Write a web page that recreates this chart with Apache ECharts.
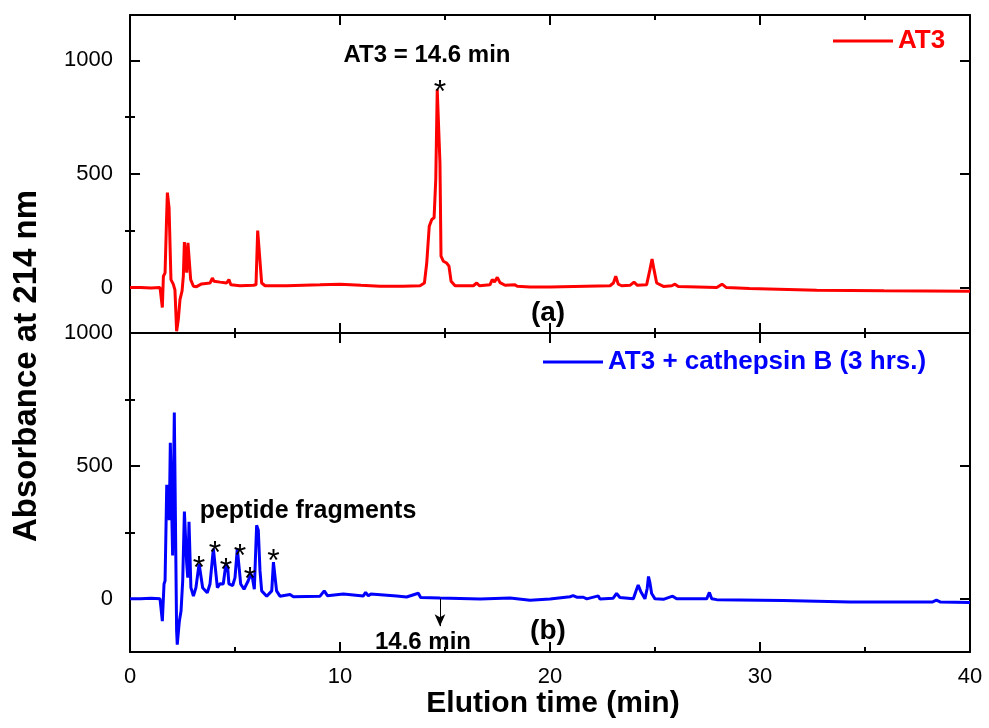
<!DOCTYPE html>
<html>
<head>
<meta charset="utf-8">
<title>AT3 cathepsin B HPLC</title>
<script src="https://cdn.jsdelivr.net/npm/echarts@6/dist/echarts.min.js"></script>
<style>
  html, body { margin: 0; padding: 0; background: #fff; }
  #chart { width: 989px; height: 728px; }
</style>
</head>
<body>
<div id="chart"></div>
<script>
// Chromatogram (a): AT3 alone — elution time (min) and absorbance at 214 nm
const timeA = [0, 0.5, 1.0, 1.43, 1.54, 1.59, 1.67, 1.74, 1.78, 1.83, 1.86, 1.92, 1.95, 2.06, 2.14, 2.22, 2.30, 2.38, 2.48, 2.54,
  2.59, 2.66, 2.70, 2.76, 2.83, 2.89, 3.02, 3.17, 3.41, 3.81, 3.92, 4.0, 4.29, 4.6, 4.71, 4.8, 5.24, 5.87, 6.0, 6.08,
  6.16, 6.27, 6.43, 7.46, 9.05, 10.0, 11.0, 11.9, 13.0, 13.81, 14.02, 14.13, 14.25, 14.37, 14.48, 14.56, 14.63, 14.71, 14.76, 14.81,
  14.92, 15.08, 15.19, 15.29, 15.48, 16.35, 16.51, 16.64, 17.14, 17.25, 17.36, 17.49, 17.62, 17.86, 18.33, 18.44, 19.05, 20.0, 22.86, 23.02,
  23.13, 23.25, 23.41, 23.81, 24.0, 24.16, 24.6, 24.76, 24.86, 24.95, 25.08, 25.4, 25.8, 25.95, 26.11, 27.94, 28.19, 28.4, 29.5, 32.7,
  35.9, 40];
const valueA = [0, 0, -2, 0, -88, 50, 65, 300, 418, 418, 352, 352, 35, 15, -10, -192, -141, -53, -15, 50,
  200, 200, 66, 197, 197, 35, 6, 4, 16, 20, 42, 28, 24, 20, 35, 12, 8, 10, 12, 251,
  251, 20, 8, 8, 12, 15, 10, 6, 6, 8, 20, 108, 270, 300, 307, 476, 872, 865, 549, 138,
  116, 108, 94, 28, 8, 8, 20, 8, 12, 35, 25, 45, 22, 10, 12, 6, 3, 3, 8, 20,
  50, 15, 8, 10, 24, 10, 12, 80, 126, 80, 20, 5, 8, 15, 5, 0, 15, 0, -4, -12,
  -14, -16];

// Chromatogram (b): AT3 + cathepsin B after 3 hours
const timeB = [0, 0.5, 1.0, 1.43, 1.54, 1.62, 1.67, 1.75, 1.83, 1.87, 1.92, 1.98, 2.03, 2.11, 2.17, 2.22, 2.25, 2.35, 2.43, 2.51,
  2.59, 2.67, 2.70, 2.75, 2.81, 2.86, 2.90, 3.02, 3.14, 3.29, 3.37, 3.46, 3.68, 3.81, 3.97, 4.05, 4.16, 4.29, 4.44, 4.57,
  4.65, 4.71, 4.89, 5.0, 5.11, 5.19, 5.27, 5.43, 5.63, 5.75, 5.84, 5.92, 6.03, 6.11, 6.19, 6.27, 6.51, 6.75, 6.83, 6.90,
  6.98, 7.14, 7.62, 7.78, 9.05, 9.25, 9.4, 10.16, 11.11, 11.22, 11.35, 11.46, 12.7, 13.17, 13.73, 13.84, 14.76, 16.67, 18.1, 19.05,
  20.0, 20.95, 21.1, 21.27, 21.59, 21.75, 22.3, 22.38, 23.0, 23.17, 23.33, 23.97, 24.1, 24.2, 24.32, 24.52, 24.63, 24.69, 24.76, 24.84,
  25.0, 25.4, 25.84, 26.03, 27.46, 27.59, 27.7, 27.94, 31.1, 34.3, 38.2, 38.4, 38.6, 40];
const valueB = [0, 0, 2, 0, -84, 56, 68, 429, 429, 296, 587, 587, 163, 701, 701, -121, -172, -84, -46, 68,
  328, 324, 132, 80, 290, 283, 42, 10, 42, 132, 132, 42, 23, 56, 189, 189, 42, 57, 56, 132,
  120, 56, 50, 80, 189, 185, 56, 36, 68, 94, 75, 36, 277, 258, 106, 30, 10, 30, 138, 132,
  30, 10, 16, 8, 10, 30, 12, 18, 11, 24, 11, 18, 11, 7, 21, 5, 3, -1, 3, -5,
  -1, 8, 12, 6, 6, 0, 11, -1, 2, 20, 5, 0, 30, 52, 28, 0, 40, 84, 60, 20,
  0, -2, 10, 0, 0, 24, 0, -3, -6, -12, -12, -5, -12, -14];

// Asterisk markers over identified peaks [time, absorbance]
const starsA = [[14.76, 894]];
const starsB = [[3.29, 147], [4.05, 201], [4.57, 138], [5.24, 189], [5.71, 104], [6.83, 172]];

// Arrow marking where the intact AT3 peak would elute in (b)
const arrowTime = 14.76;
const arrowFrom = 0;
const arrowTo = -103;

// Axis ticks
const xMin = 0, xMax = 40, xStep = 10;
const yRangeA = [-200, 1200];
const yRangeB = [-200, 1000];
const yMajor = [0, 500, 1000];
const yMinor = [250, 750];

const FONT = '"Liberation Sans", Arial, Helvetica, sans-serif';

const seriesA = timeA.map((t, i) => [t, valueA[i]]);
const seriesB = timeB.map((t, i) => [t, valueB[i]]);

const chart = echarts.init(document.getElementById('chart'), null, { renderer: 'canvas' });

const axisLineStyle = { color: '#000', width: 2 };
const tickLineStyle = { color: '#000', width: 2 };
const plainNumber = v => String(v);

function xAxisFor(gridIndex, position, showLabels) {
  return {
    type: 'value', gridIndex, position, min: xMin, max: xMax, interval: xStep,
    axisLine: { show: true, onZero: false, lineStyle: axisLineStyle },
    axisTick: { show: true, inside: true, length: 10, lineStyle: tickLineStyle },
    minorTick: { show: true, splitNumber: 2, length: 5, lineStyle: tickLineStyle },
    splitLine: { show: false },
    minorSplitLine: { show: false },
    axisLabel: { show: showLabels, color: '#000', fontFamily: FONT, fontSize: 22, margin: 14, formatter: plainNumber }
  };
}

function yAxesFor(gridIndex, range) {
  const base = {
    type: 'value', gridIndex, min: range[0], max: range[1],
    splitLine: { show: false }
  };
  return [
    Object.assign({}, base, {
      position: 'left',
      axisLine: { show: true, onZero: false, lineStyle: axisLineStyle },
      axisTick: { show: true, inside: true, length: 10, lineStyle: tickLineStyle, customValues: yMajor },
      axisLabel: { show: true, color: '#000', fontFamily: FONT, fontSize: 22, margin: 17, customValues: yMajor, formatter: plainNumber }
    }),
    Object.assign({}, base, {
      position: 'left',
      axisLine: { show: false },
      axisTick: { show: true, inside: true, length: 5, lineStyle: tickLineStyle, customValues: yMinor },
      axisLabel: { show: false }
    }),
    Object.assign({}, base, {
      position: 'right',
      axisLine: { show: true, onZero: false, lineStyle: axisLineStyle },
      axisTick: { show: true, inside: true, length: 10, lineStyle: tickLineStyle, customValues: yMajor },
      axisLabel: { show: false }
    }),
    Object.assign({}, base, {
      position: 'right',
      axisLine: { show: false },
      axisTick: { show: true, inside: true, length: 5, lineStyle: tickLineStyle, customValues: yMinor },
      axisLabel: { show: false }
    })
  ];
}

function starPoints(list) {
  return {
    symbol: 'circle',
    symbolSize: 1,
    itemStyle: { color: 'rgba(0,0,0,0)' },
    label: {
      show: true, position: 'inside', formatter: '*', color: '#000',
      fontFamily: FONT, fontSize: 32, offset: [0, 9]
    },
    data: list.map(p => ({ coord: p }))
  };
}

function annotation(text, x, y, size, extra) {
  return Object.assign({
    type: 'text', x, y, z: 100,
    style: {
      text, fill: '#000', font: 'bold ' + size + 'px ' + FONT,
      textAlign: 'center', textVerticalAlign: 'middle'
    }
  }, extra || {});
}

function legendFor(name, color, left, top) {
  return {
    data: [{ name, icon: 'rect', itemStyle: { color }, textStyle: { color } }],
    left, top, padding: 0,
    itemWidth: 60, itemHeight: 3, itemGap: 8,
    textStyle: { fontFamily: FONT, fontSize: 26, fontWeight: 'bold' }
  };
}

const option = {
  backgroundColor: '#fff',
  animation: false,
  grid: [
    { left: 130, right: 19, top: 15, height: 318 },
    { left: 130, right: 19, top: 333, height: 319 }
  ],
  xAxis: [
    xAxisFor(0, 'bottom', false),
    xAxisFor(0, 'top', false),
    xAxisFor(1, 'bottom', true),
    xAxisFor(1, 'top', false)
  ],
  yAxis: yAxesFor(0, yRangeA).concat(yAxesFor(1, yRangeB)),
  legend: [
    legendFor('AT3', '#ff0000', 833, 28),
    legendFor('AT3 + cathepsin B (3 hrs.)', '#0000ff', 543, 349)
  ],
  series: [
    {
      name: 'AT3', type: 'line', xAxisIndex: 0, yAxisIndex: 0,
      data: seriesA, symbol: 'none', showSymbol: false,
      lineStyle: { color: '#ff0000', width: 3 }, itemStyle: { color: '#ff0000' },
      markPoint: starPoints(starsA)
    },
    {
      name: 'AT3 + cathepsin B (3 hrs.)', type: 'line', xAxisIndex: 2, yAxisIndex: 4,
      data: seriesB, symbol: 'none', showSymbol: false,
      lineStyle: { color: '#0000ff', width: 3 }, itemStyle: { color: '#0000ff' },
      markPoint: starPoints(starsB),
      markLine: {
        silent: true,
        symbol: ['none', 'arrow'],
        symbolSize: [8, 12],
        label: { show: false },
        lineStyle: { color: '#000', width: 1, type: 'solid' },
        data: [[{ coord: [arrowTime, arrowFrom] }, { coord: [arrowTime, arrowTo] }]]
      }
    }
  ],
  graphic: [
    annotation('AT3 = 14.6 min', 427, 55, 24),
    annotation('(a)', 548, 313, 28),
    annotation('peptide fragments', 308, 511, 25),
    annotation('14.6 min', 423, 642, 24),
    annotation('(b)', 548, 631, 28),
    annotation('Elution time (min)', 553, 704, 30),
    annotation('Absorbance at 214 nm', 27, 366, 33, { rotation: Math.PI / 2 })
  ]
};

chart.setOption(option);
</script>
</body>
</html>
